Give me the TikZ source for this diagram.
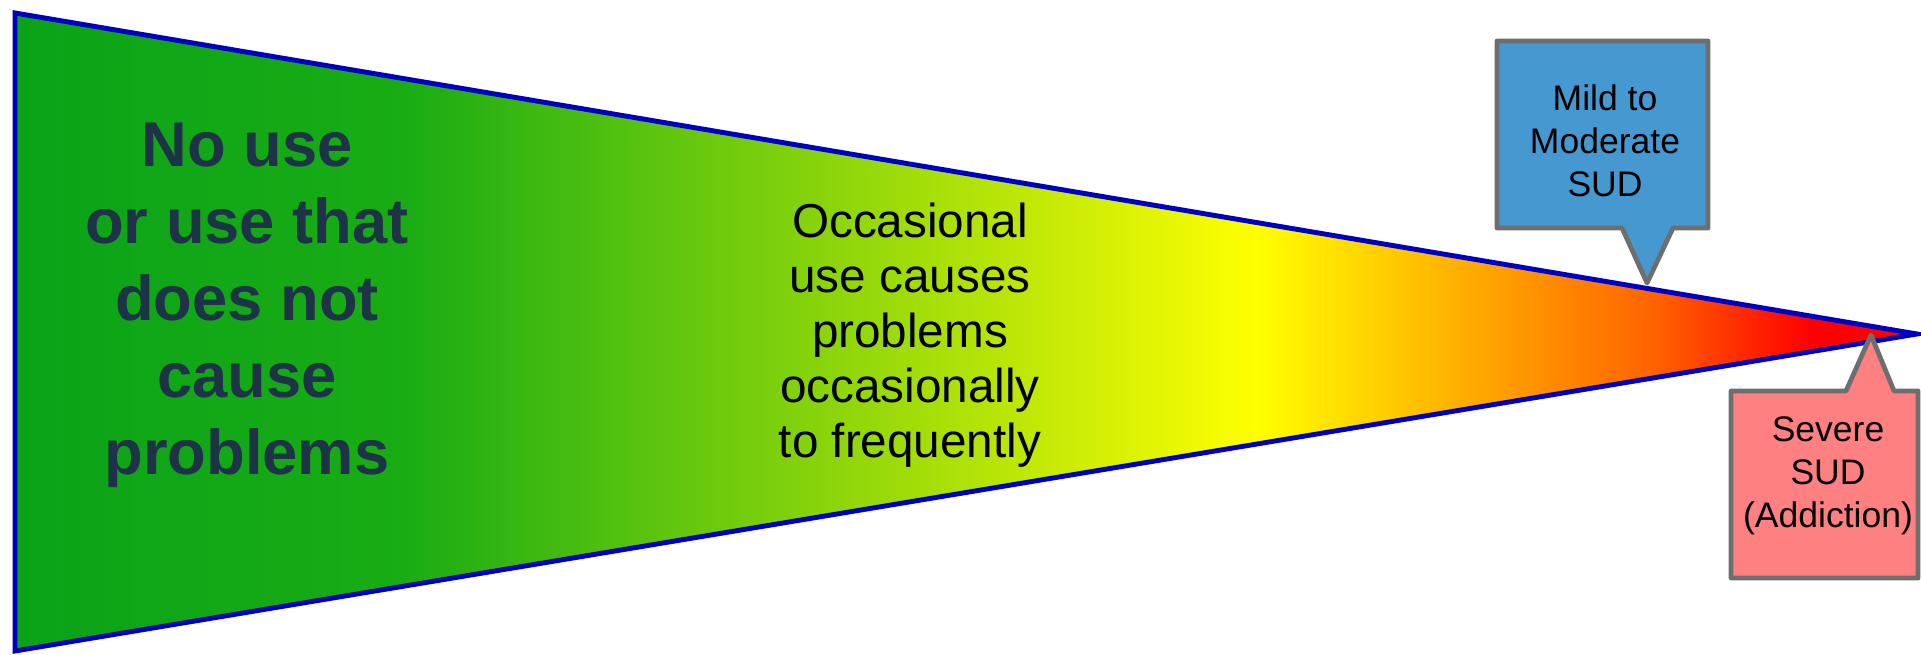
\documentclass[tikz,border=0pt]{standalone}
\usepackage{fontspec}
\setmainfont{Liberation Sans}

% colour ramp of the spectrum triangle
\definecolor{rampA}{RGB}{10,163,24}
\definecolor{rampB}{RGB}{25,172,20}
\definecolor{rampC}{RGB}{198,234,6}
\definecolor{rampD}{RGB}{255,255,0}
\definecolor{rampE}{RGB}{255,100,0}
\definecolor{rampF}{RGB}{255,0,0}
\definecolor{edgeblue}{RGB}{0,0,192}
\definecolor{navytext}{RGB}{31,51,72}
\definecolor{mildfill}{RGB}{69,152,208}
\definecolor{severefill}{RGB}{255,128,128}
\definecolor{calloutgray}{RGB}{110,110,110}

% 25bp..75bp of the shading span the triangle from its base to its tip
\pgfdeclarehorizontalshading{spectrum}{100bp}{%
  color(0bp)=(rampA); color(25bp)=(rampA); color(35.23bp)=(rampB);
  color(52.21bp)=(rampC); color(57.65bp)=(rampD); color(67.98bp)=(rampE);
  color(72.19bp)=(rampF); color(75bp)=(rampF); color(100bp)=(rampF)}

\tikzset{
  edge/.style={draw=edgeblue, line width=1.4pt},
  calloutbox/.style={draw=calloutgray, line width=1.35pt, line join=round},
  bigbold/.style={font=\fontsize{18}{21.9}\selectfont\bfseries, text=navytext,
    align=center, inner sep=0pt},
  midtext/.style={font=\fontsize{13.55}{15.65}\selectfont, text=black,
    align=center, inner sep=0pt},
  callouttext/.style={font=\fontsize{10.1}{12.3}\selectfont, text=black,
    align=center, inner sep=0pt}
}

\begin{document}
\begin{tikzpicture}[x=0.01cm, y=-0.01cm]
  \useasboundingbox (0,0) rectangle (1921,655);

  % corners of the spectrum
  \coordinate (tl) at (15,13);
  \coordinate (tip) at (1917,334);
  \coordinate (bl) at (15,651);

  \shadedraw[shading=spectrum, edge] (tl) -- (tip) -- (bl) -- cycle;

  % labels inside the spectrum
  \node[bigbold] (nouse) at (247,305) {No use\\or use that\\does not\\cause\\problems};
  \node[midtext] (occasional) at (910,335) {Occasional\\use causes\\problems\\occasionally\\to frequently};

  % callout pointing at the upper edge
  \coordinate (mildtip) at (1647,283);
  \draw[calloutbox, fill=mildfill]
    (1497,41) -- (1708,41) -- (1708,228) -- (1673,228) -- (mildtip)
    -- (1622,228) -- (1497,228) -- cycle;
  \node[callouttext] (mild) at (1605,141) {Mild to\\Moderate\\SUD};

  % callout pointing at the tip
  \coordinate (severetip) at (1871,335);
  \draw[calloutbox, fill=severefill]
    (1731,391) -- (1846,391) -- (severetip) -- (1894,391) -- (1918,391)
    -- (1918,578) -- (1731,578) -- cycle;
  \node[callouttext] (severe) at (1828,476) {Severe\\SUD\\(Addiction)};
\end{tikzpicture}
\end{document}
